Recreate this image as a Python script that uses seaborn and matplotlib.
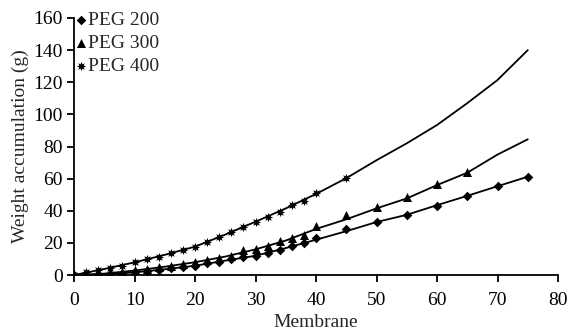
import numpy as np
import pandas as pd
import matplotlib
matplotlib.use("Agg")
import matplotlib.pyplot as plt
import seaborn as sns

# measured points
x_200 = [0, 2, 4, 6, 8, 10, 12, 14, 16, 18, 20, 22, 24, 26, 28, 30, 32, 34, 36, 38, 40,
         45, 50, 55, 60, 65, 70, 75]
y_200 = [0, 0.1, 0.2, 0.4, 0.6, 1.7, 2.5, 3.1, 4.2, 5.2, 5.8, 7.3, 8.3, 9.8, 11, 11.8, 13.9,
         15.6, 18, 20.1, 22.8, 28.4, 33.2, 37.4, 43, 49.2, 55.4, 61.2]

x_300 = [0, 2, 4, 6, 8, 10, 12, 14, 16, 18, 20, 22, 24, 26, 28, 30, 32, 34, 36, 38, 40,
         45, 50, 55, 60, 65]
y_300 = [0, 0.3, 0.6, 1.2, 2, 3, 3.8, 4.8, 5.8, 7, 8, 9.3, 10.4, 11.8, 15.6, 16.2, 18,
         21.4, 22.8, 24.9, 30.8, 37.4, 42.5, 48.4, 56.5, 64.3]

x_400 = [0, 2, 4, 6, 8, 10, 12, 14, 16, 18, 20, 22, 24, 26, 28, 30, 32, 34, 36, 38, 40, 45]
y_400 = [0, 2, 3.1, 4.5, 5.6, 7.9, 9.8, 11.4, 13.9, 15.6, 17.6, 20.7, 23.8, 26.6, 30.1,
         33.2, 36.3, 39.4, 43.6, 46.3, 51.2, 60.3]

# fitted curves
x_fit = [0, 5, 10, 15, 20, 25, 30, 35, 40, 45, 50, 55, 60, 65, 70, 75]
fit_200 = [0, 0.3, 1.7, 3.6, 5.8, 9, 12, 16.8, 22, 27.3, 33, 37.5, 43.5, 49.3, 55.3, 61.2]
fit_300 = [0, 0.9, 2.8, 5.2, 8, 11.5, 16, 21.5, 28.7, 34.7, 41.5, 47.7, 56, 63.7, 75, 84.5]
fit_400 = [0, 3.8, 7.9, 12.6, 17.7, 25.2, 33.2, 41.5, 50.5, 60.3, 71.5, 82, 93.4, 107, 121.4, 140]

labels = ["PEG 200", "PEG 300", "PEG 400"]

sns.set_style("ticks")
plt.rcParams['font.family'] = ['Liberation Serif', 'DejaVu Serif']
fs = 14

fig = plt.figure(figsize=(5.7, 3.33), dpi=100)
ax = fig.add_axes([0.130, 0.174, 0.849, 0.772])

# fit lines
for fit in [fit_200, fit_300, fit_400]:
    sns.lineplot(x=x_fit, y=fit, ax=ax, color="black", linewidth=1.3, zorder=2)

# markers
sns.scatterplot(x=x_200, y=y_200, ax=ax, marker="D", s=24, color="black",
                edgecolor="black", linewidth=0, label=labels[0], zorder=3)
sns.scatterplot(x=x_300, y=y_300, ax=ax, marker="^", s=42, color="black",
                edgecolor="black", linewidth=0, label=labels[1], zorder=3)
sns.scatterplot(x=x_400, y=y_400, ax=ax, marker=(8, 1, 0), s=45, color="black",
                edgecolor="black", linewidth=0, label=labels[2], zorder=3)

ax.set_xlim(0, 80)
ax.set_ylim(0, 160)
ax.set_xticks(range(0, 81, 10))
ax.set_yticks(range(0, 161, 20))
ax.set_xlabel("Membrane", fontsize=fs, labelpad=4)
ax.set_ylabel("Weight accumulation (g)", fontsize=fs, labelpad=3)

sns.despine(ax=ax)
for s in ["left", "bottom"]:
    ax.spines[s].set_color("black")
    ax.spines[s].set_linewidth(1.3)
ax.tick_params(axis="both", direction="out", length=5, width=1.3, colors="black",
               labelsize=fs, pad=3)
ax.tick_params(axis="x", pad=7)

ax.legend(loc="upper left", frameon=False, handletextpad=0.0, borderaxespad=0.0,
          borderpad=0.0, labelspacing=0.28, fontsize=fs, handlelength=0.7,
          bbox_to_anchor=(0.0, 1.025))

fig.savefig("out.png", dpi=100)
